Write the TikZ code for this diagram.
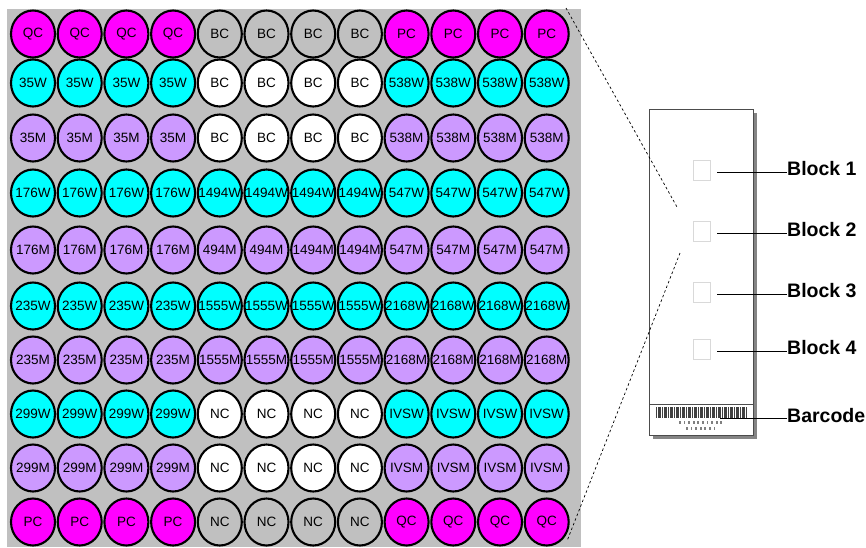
\documentclass[tikz,border=0pt]{standalone}
\usepackage{fontspec}
\setmainfont{Liberation Sans}
\usetikzlibrary{shapes.geometric,shadows}

\definecolor{plategrey}{RGB}{192,192,192}
\definecolor{qcpink}{RGB}{255,0,255}
\definecolor{wtcyan}{RGB}{0,255,255}
\definecolor{mutlav}{RGB}{204,153,255}

\tikzset{
  well/.style={ellipse, draw=black, line width=2.1pt, minimum width=44pt,
    minimum height=47pt, inner sep=0pt, font=\fontsize{13.5}{14}\selectfont},
  block/.style={draw=black!15, fill=white, minimum width=17pt,
    minimum height=20pt, inner sep=0pt},
  tag/.style={anchor=base west, inner sep=0pt,
    font=\fontsize{19.5}{21}\selectfont\bfseries},
  slidebox/.style={draw=black!70, line width=0.9pt, inner sep=0pt,
    minimum width=104pt},
  zoomline/.style={dash pattern=on 2.5pt off 2.5pt, line width=0.7pt}
}

\begin{document}
\begin{tikzpicture}[x=1pt, y=-1pt]
\useasboundingbox (0,0) rectangle (866,547);

% plate
\fill[plategrey] (7,9) rectangle (581,547);
\foreach \y/\fa/\fb/\fc/\labs [count=\r] in {
  34/qcpink/plategrey/qcpink/{QC,QC,QC,QC,BC,BC,BC,BC,PC,PC,PC,PC},
  83/wtcyan/white/wtcyan/{35W,35W,35W,35W,BC,BC,BC,BC,538W,538W,538W,538W},
  138/mutlav/white/mutlav/{35M,35M,35M,35M,BC,BC,BC,BC,538M,538M,538M,538M},
  193/wtcyan/wtcyan/wtcyan/{176W,176W,176W,176W,1494W,1494W,1494W,1494W,547W,547W,547W,547W},
  250/mutlav/mutlav/mutlav/{176M,176M,176M,176M,494M,494M,1494M,1494M,547M,547M,547M,547M},
  306/wtcyan/wtcyan/wtcyan/{235W,235W,235W,235W,1555W,1555W,1555W,1555W,2168W,2168W,2168W,2168W},
  360/mutlav/mutlav/mutlav/{235M,235M,235M,235M,1555M,1555M,1555M,1555M,2168M,2168M,2168M,2168M},
  414/wtcyan/white/wtcyan/{299W,299W,299W,299W,NC,NC,NC,NC,IVSW,IVSW,IVSW,IVSW},
  468/mutlav/white/mutlav/{299M,299M,299M,299M,NC,NC,NC,NC,IVSM,IVSM,IVSM,IVSM},
  522/qcpink/plategrey/qcpink/{PC,PC,PC,PC,NC,NC,NC,NC,QC,QC,QC,QC}}{
  \foreach \l [count=\c] in \labs {
    \ifnum\c<5 \def\f{\fa}\else\ifnum\c<9 \def\f{\fb}\else\def\f{\fc}\fi\fi
    \node[well, fill=\f] (w\r-\c) at ({33+46.7*(\c-1)},\y) {\makebox[0pt]{\l}};
  }
}

% slide
\node[slidebox, fill=white, minimum height=326pt,
  drop shadow={shadow xshift=3.5pt, shadow yshift=-3.5pt, fill=black!60, opacity=0.8}]
  (slide) at (701,272) {};
\node[slidebox, minimum height=31pt, anchor=south] (code) at (slide.south) {};
\foreach \i in {0,...,45}
  \fill[black!75] (656+2*\i,407) rectangle ++({0.7+0.5*mod(\i*5,3)},11);
\foreach \i in {0,...,9}
  \fill[black!50] (679+4.6*\i,420.5) rectangle ++(1.8,3.5);
\foreach \i in {0,...,6}
  \fill[black!50] (686+4.6*\i,426.5) rectangle ++(1.8,3.5);

\foreach \y [count=\i] in {170,231,292,349} {
  \node[block] (blk\i) at (701.5,\y) {};
  \node[tag] (lab\i) at (787,\y+5) {Block \i};
  \draw[line width=0.9pt] ([xshift=7pt,yshift=-2pt]blk\i.east) -- ([yshift=3pt]lab\i.base west);
}
\coordinate (bcend) at (720,418);
\node[tag] (labbc) at (787,422) {Barcode};
\draw[line width=0.9pt] (bcend) -- ([yshift=4pt]labbc.base west);

% zoom lines
\coordinate (zt) at (566,8);
\coordinate (zm1) at (677,207);
\coordinate (zm2) at (680,253);
\coordinate (zb) at (567,541);
\draw[zoomline] (zt) -- (zm1);
\draw[zoomline] (zm2) -- (zb);
\end{tikzpicture}
\end{document}
